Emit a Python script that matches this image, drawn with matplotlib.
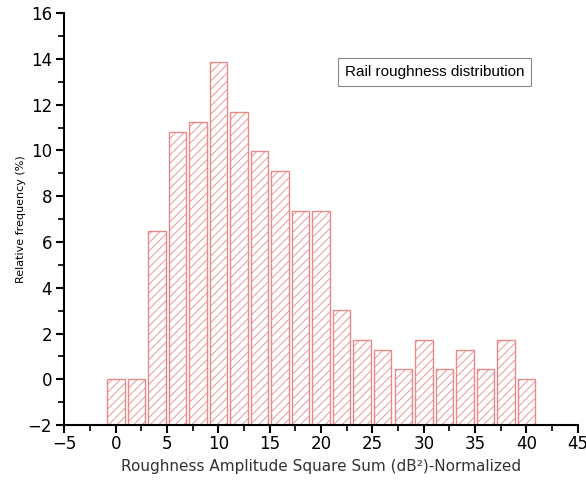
import matplotlib.pyplot as plt
from matplotlib.ticker import MultipleLocator

# histogram bins (centres) and relative frequency in percent
bin_centres = [0, 2, 4, 6, 8, 10, 12, 14, 16, 18, 20,
               22, 24, 26, 28, 30, 32, 34, 36, 38, 40]
rel_freq = [0.0, 0.0, 6.49, 10.82, 11.26, 13.85, 11.69, 9.96, 9.09, 7.36, 7.36,
            3.03, 1.73, 1.30, 0.43, 1.73, 0.43, 1.30, 0.43, 1.73, 0.0]

x_ticks = [-5, 0, 5, 10, 15, 20, 25, 30, 35, 40, 45]
y_ticks = [-2, 0, 2, 4, 6, 8, 10, 12, 14, 16]

plt.rcParams['hatch.linewidth'] = 0.6
plt.rcParams['hatch.color'] = '#e57373'

fig = plt.figure(figsize=(5.86, 4.88), dpi=100)
ax = fig.add_axes([0.110, 0.129, 0.876, 0.844])

# bars start at the bottom of the axis
base = y_ticks[0]
heights = [v - base for v in rel_freq]
ax.bar(bin_centres, heights, bottom=base, width=1.7,
       facecolor='white', edgecolor='#e88a8a', linewidth=1.0,
       hatch='////')

ax.set_xlim(-5, 45)
ax.set_ylim(-2, 16)
ax.set_xticks(x_ticks)
ax.set_yticks(y_ticks)
ax.xaxis.set_minor_locator(MultipleLocator(2.5))
ax.yaxis.set_minor_locator(MultipleLocator(1))

for s in ['top', 'right']:
    ax.spines[s].set_visible(False)
for s in ['left', 'bottom']:
    ax.spines[s].set_linewidth(1.5)

ax.tick_params(which='major', direction='out', length=6, width=1.5,
               labelsize=12, pad=3)
ax.tick_params(axis='x', which='major', pad=1.5)
ax.tick_params(which='minor', direction='out', length=4, width=1.2)

ax.set_xlabel('Roughness Amplitude Square Sum (dB²)-Normalized',
              fontsize=11, color='#333333', labelpad=4)
ax.set_ylabel('Relative frequency (%)', fontsize=8, labelpad=1)

ax.text(0.546, 0.857, 'Rail roughness distribution', transform=ax.transAxes,
        fontsize=11, family='Liberation Sans', va='center', ha='left',
        bbox=dict(boxstyle='square,pad=0.45', facecolor='white',
                  edgecolor='#888888', linewidth=0.8))

fig.savefig('out.png', dpi=100)
